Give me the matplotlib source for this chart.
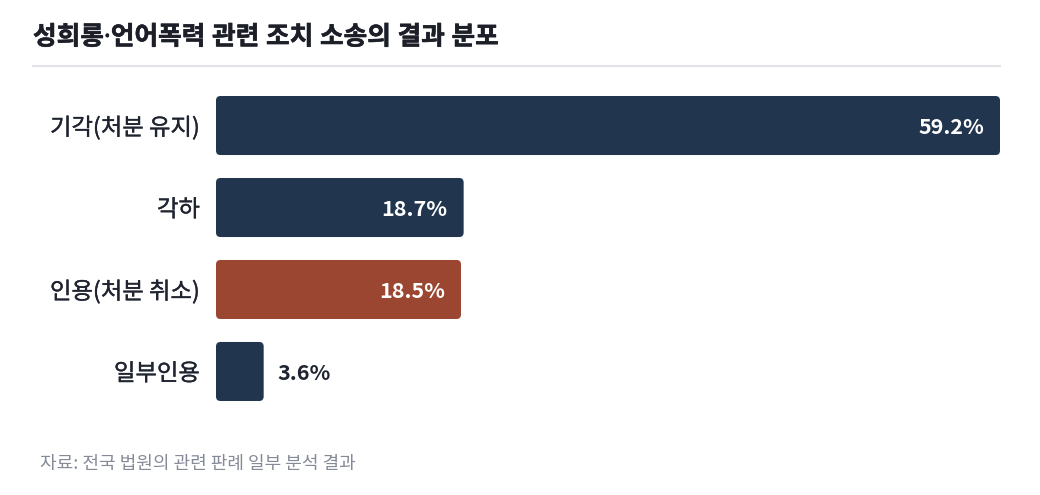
import matplotlib
matplotlib.use("Agg")
import matplotlib.pyplot as plt
from matplotlib.patches import FancyBboxPatch
from matplotlib.lines import Line2D
import matplotlib.patheffects as pe

plt.rcParams['font.family'] = ['Noto Sans CJK KR', 'DejaVu Sans']

title = "성희롱·언어폭력 관련 조치 소송의 결과 분포"
source = "자료: 전국 법원의 관련 판례 일부 분석 결과"
categories = ["기각(처분 유지)", "각하", "인용(처분 취소)", "일부인용"]
values = [59.2, 18.7, 18.5, 3.6]
value_labels = ["59.2%", "18.7%", "18.5%", "3.6%"]
colors = ["#22354f", "#22354f", "#9a4630", "#22354f"]

W, H = 1040, 495
fig = plt.figure(figsize=(W / 100, H / 100), dpi=100)
fig.patch.set_facecolor("white")

left_px, right_px, top_px, bot_px = 216, 1000, 96, 401
ax = fig.add_axes([left_px / W, 1 - bot_px / H, (right_px - left_px) / W, (bot_px - top_px) / H])
bar_h = 0.72
n = len(categories)
ax.set_xlim(0, max(values))
ax.set_ylim(n - 1 + bar_h / 2, -bar_h / 2)
ax.axis("off")

xpp = max(values) / (right_px - left_px)
ypp = (n - 1 + bar_h) / (bot_px - top_px)
r_px = 4.5
label_color = "#1f2430"
title_color = "#1c1f28"
for i, (v, c) in enumerate(zip(values, colors)):
    p = FancyBboxPatch((0, i - bar_h / 2), v, bar_h,
                       boxstyle=f"round,pad=0,rounding_size={r_px * xpp}",
                       mutation_aspect=ypp / xpp,
                       facecolor=c, edgecolor="none")
    ax.add_patch(p)
    if v > 10:
        ax.text(v - 16 * xpp, i, value_labels[i], ha="right", va="center_baseline",
                color="white", fontsize=15.5, fontweight="bold")
    else:
        ax.text(v + 14 * xpp, i, value_labels[i], ha="left", va="center_baseline",
                color=label_color, fontsize=15.5, fontweight="bold")
    ax.text(-16 * xpp, i, categories[i], ha="right", va="center_baseline",
            color=label_color, fontsize=16.8,
            path_effects=[pe.withStroke(linewidth=0.25, foreground=label_color)])

fig.text(33 / W, 1 - 35 / H, title, ha="left", va="center_baseline",
         fontsize=18.5, fontweight="bold", color=title_color,
         family=['Noto Sans', 'Noto Sans CJK KR'],
         path_effects=[pe.withStroke(linewidth=0.4, foreground=title_color)])
fig.add_artist(Line2D([33 / W, 1000 / W], [1 - 65.5 / H, 1 - 65.5 / H],
                      color="#e2e3e8", linewidth=1.5))
fig.text(40 / W, 1 - 462 / H, source, ha="left", va="center_baseline",
         fontsize=13, color="#858a97")

fig.savefig("out.png", dpi=100, facecolor="white")
